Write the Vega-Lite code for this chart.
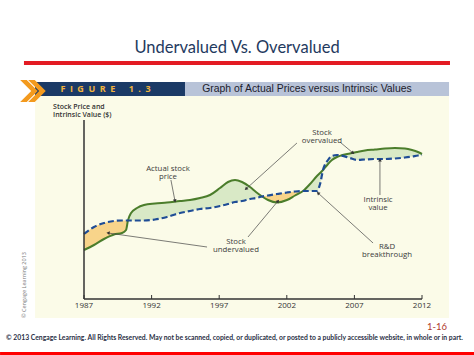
{
  "$schema": "https://vega.github.io/schema/vega-lite/v6.json",
  "width": 338,
  "height": 179,
  "autosize": {"type": "none"},
  "padding": {"left": 84, "top": 120, "right": 52, "bottom": 56},
  "background": "white",
  "config": {"view": {"stroke": null}, "axis": {"grid": false}},
  "datasets": {
    "one": [{}],
    "ticks": [{"year": 1987}, {"year": 1992}, {"year": 1997}, {"year": 2002}, {"year": 2007}, {"year": 2012}],
    "curves": [
      {"year": 1987.00, "actual": 49, "intrinsic": 65},
      {"year": 1987.74, "actual": 54, "intrinsic": 72},
      {"year": 1988.48, "actual": 60, "intrinsic": 76},
      {"year": 1989.22, "actual": 64.5, "intrinsic": 78},
      {"year": 1989.81, "actual": 66, "intrinsic": 78.5},
      {"year": 1990.11, "actual": 69, "intrinsic": 78.5},
      {"year": 1990.25, "actual": 78.5, "intrinsic": 78.5},
      {"year": 1990.48, "actual": 86, "intrinsic": 78.5},
      {"year": 1990.92, "actual": 91, "intrinsic": 78.5},
      {"year": 1991.44, "actual": 94, "intrinsic": 78.5},
      {"year": 1992.25, "actual": 95.5, "intrinsic": 79.5},
      {"year": 1993.14, "actual": 96.5, "intrinsic": 82},
      {"year": 1994.10, "actual": 98, "intrinsic": 86},
      {"year": 1994.84, "actual": 99, "intrinsic": 88},
      {"year": 1995.58, "actual": 101, "intrinsic": 90},
      {"year": 1996.32, "actual": 104, "intrinsic": 91},
      {"year": 1997.06, "actual": 111, "intrinsic": 93},
      {"year": 1997.65, "actual": 117, "intrinsic": 95},
      {"year": 1998.17, "actual": 119, "intrinsic": 97},
      {"year": 1998.69, "actual": 117, "intrinsic": 98},
      {"year": 1999.28, "actual": 112, "intrinsic": 100},
      {"year": 1999.72, "actual": 107, "intrinsic": 101},
      {"year": 2000.17, "actual": 102.5, "intrinsic": 102.5},
      {"year": 2000.61, "actual": 99, "intrinsic": 103.5},
      {"year": 2001.28, "actual": 96.5, "intrinsic": 105},
      {"year": 2002.01, "actual": 99, "intrinsic": 106.5},
      {"year": 2002.61, "actual": 103.5, "intrinsic": 107.5},
      {"year": 2003.20, "actual": 108, "intrinsic": 108},
      {"year": 2003.72, "actual": 115, "intrinsic": 108},
      {"year": 2004.23, "actual": 123, "intrinsic": 108},
      {"year": 2004.46, "actual": 126, "intrinsic": 115},
      {"year": 2004.68, "actual": 129, "intrinsic": 129},
      {"year": 2005.05, "actual": 135, "intrinsic": 139},
      {"year": 2005.34, "actual": 139, "intrinsic": 143},
      {"year": 2005.71, "actual": 142, "intrinsic": 144},
      {"year": 2006.01, "actual": 143.5, "intrinsic": 143.5},
      {"year": 2006.67, "actual": 145.5, "intrinsic": 141},
      {"year": 2007.19, "actual": 147, "intrinsic": 139},
      {"year": 2007.78, "actual": 148.5, "intrinsic": 139.5},
      {"year": 2008.52, "actual": 149.5, "intrinsic": 140},
      {"year": 2009.26, "actual": 150.5, "intrinsic": 140},
      {"year": 2010.00, "actual": 151, "intrinsic": 140.5},
      {"year": 2010.74, "actual": 150.5, "intrinsic": 141.5},
      {"year": 2011.26, "actual": 149, "intrinsic": 142.5},
      {"year": 2011.70, "actual": 147, "intrinsic": 143.5},
      {"year": 2012.00, "actual": 145, "intrinsic": 144}
    ],
    "gaps": [
      {"seg": 1, "zone": "undervalued", "year": 1987.00, "actual": 49, "intrinsic": 65},
      {"seg": 1, "zone": "undervalued", "year": 1987.74, "actual": 54, "intrinsic": 72},
      {"seg": 1, "zone": "undervalued", "year": 1988.48, "actual": 60, "intrinsic": 76},
      {"seg": 1, "zone": "undervalued", "year": 1989.22, "actual": 64.5, "intrinsic": 78},
      {"seg": 1, "zone": "undervalued", "year": 1989.81, "actual": 66, "intrinsic": 78.5},
      {"seg": 1, "zone": "undervalued", "year": 1990.11, "actual": 69, "intrinsic": 78.5},
      {"seg": 1, "zone": "undervalued", "year": 1990.25, "actual": 78.5, "intrinsic": 78.5},
      {"seg": 2, "zone": "overvalued", "year": 1990.25, "actual": 78.5, "intrinsic": 78.5},
      {"seg": 2, "zone": "overvalued", "year": 1990.48, "actual": 86, "intrinsic": 78.5},
      {"seg": 2, "zone": "overvalued", "year": 1990.92, "actual": 91, "intrinsic": 78.5},
      {"seg": 2, "zone": "overvalued", "year": 1991.44, "actual": 94, "intrinsic": 78.5},
      {"seg": 2, "zone": "overvalued", "year": 1992.25, "actual": 95.5, "intrinsic": 79.5},
      {"seg": 2, "zone": "overvalued", "year": 1993.14, "actual": 96.5, "intrinsic": 82},
      {"seg": 2, "zone": "overvalued", "year": 1994.10, "actual": 98, "intrinsic": 86},
      {"seg": 2, "zone": "overvalued", "year": 1994.84, "actual": 99, "intrinsic": 88},
      {"seg": 2, "zone": "overvalued", "year": 1995.58, "actual": 101, "intrinsic": 90},
      {"seg": 2, "zone": "overvalued", "year": 1996.32, "actual": 104, "intrinsic": 91},
      {"seg": 2, "zone": "overvalued", "year": 1997.06, "actual": 111, "intrinsic": 93},
      {"seg": 2, "zone": "overvalued", "year": 1997.65, "actual": 117, "intrinsic": 95},
      {"seg": 2, "zone": "overvalued", "year": 1998.17, "actual": 119, "intrinsic": 97},
      {"seg": 2, "zone": "overvalued", "year": 1998.69, "actual": 117, "intrinsic": 98},
      {"seg": 2, "zone": "overvalued", "year": 1999.28, "actual": 112, "intrinsic": 100},
      {"seg": 2, "zone": "overvalued", "year": 1999.72, "actual": 107, "intrinsic": 101},
      {"seg": 2, "zone": "overvalued", "year": 2000.17, "actual": 102.5, "intrinsic": 102.5},
      {"seg": 3, "zone": "undervalued", "year": 2000.17, "actual": 102.5, "intrinsic": 102.5},
      {"seg": 3, "zone": "undervalued", "year": 2000.61, "actual": 99, "intrinsic": 103.5},
      {"seg": 3, "zone": "undervalued", "year": 2001.28, "actual": 96.5, "intrinsic": 105},
      {"seg": 3, "zone": "undervalued", "year": 2002.01, "actual": 99, "intrinsic": 106.5},
      {"seg": 3, "zone": "undervalued", "year": 2002.61, "actual": 103.5, "intrinsic": 107.5},
      {"seg": 3, "zone": "undervalued", "year": 2003.20, "actual": 108, "intrinsic": 108},
      {"seg": 4, "zone": "overvalued", "year": 2003.20, "actual": 108, "intrinsic": 108},
      {"seg": 4, "zone": "overvalued", "year": 2003.72, "actual": 115, "intrinsic": 108},
      {"seg": 4, "zone": "overvalued", "year": 2004.23, "actual": 123, "intrinsic": 108},
      {"seg": 4, "zone": "overvalued", "year": 2004.46, "actual": 126, "intrinsic": 115},
      {"seg": 4, "zone": "overvalued", "year": 2004.68, "actual": 129, "intrinsic": 129},
      {"seg": 4, "zone": "overvalued", "year": 2005.05, "actual": 135, "intrinsic": 139},
      {"seg": 4, "zone": "overvalued", "year": 2005.34, "actual": 139, "intrinsic": 143},
      {"seg": 4, "zone": "overvalued", "year": 2005.71, "actual": 142, "intrinsic": 144},
      {"seg": 4, "zone": "overvalued", "year": 2006.01, "actual": 143.5, "intrinsic": 143.5},
      {"seg": 4, "zone": "overvalued", "year": 2006.67, "actual": 145.5, "intrinsic": 141},
      {"seg": 4, "zone": "overvalued", "year": 2007.19, "actual": 147, "intrinsic": 139},
      {"seg": 4, "zone": "overvalued", "year": 2007.78, "actual": 148.5, "intrinsic": 139.5},
      {"seg": 4, "zone": "overvalued", "year": 2008.52, "actual": 149.5, "intrinsic": 140},
      {"seg": 4, "zone": "overvalued", "year": 2009.26, "actual": 150.5, "intrinsic": 140},
      {"seg": 4, "zone": "overvalued", "year": 2010.00, "actual": 151, "intrinsic": 140.5},
      {"seg": 4, "zone": "overvalued", "year": 2010.74, "actual": 150.5, "intrinsic": 141.5},
      {"seg": 4, "zone": "overvalued", "year": 2011.26, "actual": 149, "intrinsic": 142.5},
      {"seg": 4, "zone": "overvalued", "year": 2011.70, "actual": 147, "intrinsic": 143.5},
      {"seg": 4, "zone": "overvalued", "year": 2012.00, "actual": 145, "intrinsic": 144}
    ],
    "arrows": [
      {"x1": 1993.43, "y1": 119, "x2": 1993.73, "y2": 98, "dir": 169},
      {"x1": 2002.75, "y1": 156, "x2": 1998.98, "y2": 110, "dir": 228},
      {"x1": 2005.93, "y1": 157, "x2": 2006.90, "y2": 146, "dir": 128},
      {"x1": 1996.10, "y1": 52, "x2": 1988.78, "y2": 66, "dir": 278},
      {"x1": 1999.13, "y1": 62, "x2": 2001.35, "y2": 98, "dir": 40},
      {"x1": 2008.89, "y1": 104, "x2": 2008.89, "y2": 139, "dir": 0},
      {"x1": 2008.38, "y1": 56, "x2": 2004.31, "y2": 106, "dir": 312}
    ],
    "notes": [
      {"year": 1993.21, "value": 134.5, "label": "Actual stock\nprice"},
      {"year": 2004.60, "value": 170.5, "label": "Stock\novervalued"},
      {"year": 1998.24, "value": 61.5, "label": "Stock\nundervalued"},
      {"year": 2008.75, "value": 103.5, "label": "Intrinsic\nvalue"},
      {"year": 2009.41, "value": 56.5, "label": "R&D\nbreakthrough"}
    ]
  },
  "layer": [
    {
      "data": {"name": "one"},
      "mark": {"type": "rect", "color": "#fbfbe8"},
      "encoding": {
        "x": {"datum": 1983.38, "type": "quantitative", "scale": {"domain": [1987, 2012], "nice": false, "zero": false}, "axis": null},
        "x2": {"datum": 2014.0},
        "y": {"datum": 204, "type": "quantitative", "scale": {"domain": [0, 179], "nice": false, "zero": false}, "axis": null},
        "y2": {"datum": -19}
      }
    },
    {
      "data": {"name": "one"},
      "mark": {"type": "rect", "color": "#1b3a66"},
      "encoding": {
        "x": {"datum": 1983.38, "type": "quantitative"},
        "x2": {"datum": 1994.47},
        "y": {"datum": 217, "type": "quantitative"},
        "y2": {"datum": 203}
      }
    },
    {
      "data": {"name": "one"},
      "mark": {"type": "rect", "color": "#b8c3d8"},
      "encoding": {
        "x": {"datum": 1994.47, "type": "quantitative"},
        "x2": {"datum": 2014.0},
        "y": {"datum": 217, "type": "quantitative"},
        "y2": {"datum": 203}
      }
    },
    {
      "data": {"name": "one"},
      "mark": {"type": "point", "filled": true, "color": "#f39a1e", "opacity": 1, "size": 484, "shape": "M-0.8,-1 L-0.2,-1 L0.8,0 L-0.2,1 L-0.8,1 L0.2,0 Z"},
      "encoding": {
        "x": {"datum": 1982.93, "type": "quantitative"},
        "y": {"datum": 208, "type": "quantitative"}
      }
    },
    {
      "data": {"name": "one"},
      "mark": {"type": "point", "filled": true, "color": "#f39a1e", "opacity": 1, "size": 484, "shape": "M-0.8,-1 L-0.2,-1 L0.8,0 L-0.2,1 L-0.8,1 L0.2,0 Z"},
      "encoding": {
        "x": {"datum": 1983.52, "type": "quantitative"},
        "y": {"datum": 208, "type": "quantitative"}
      }
    },
    {
      "data": {"name": "one"},
      "mark": {"type": "text", "text": "F\u2002I\u2002G\u2002U\u2002R\u2002E\u2003\u20021\u2002.\u20023", "font": "Open Sans", "fontWeight": "bold", "fontSize": 9, "color": "#f2b33d", "align": "center", "baseline": "middle"},
      "encoding": {
        "x": {"datum": 1988.59, "type": "quantitative"},
        "y": {"datum": 210, "type": "quantitative"}
      }
    },
    {
      "data": {"name": "one"},
      "mark": {"type": "text", "text": "Graph of Actual Prices versus Intrinsic Values", "font": "Liberation Sans", "fontWeight": 500, "fontSize": 10.4, "color": "#1c1c2c", "align": "center", "baseline": "middle"},
      "encoding": {
        "x": {"datum": 2003.49, "type": "quantitative"},
        "y": {"datum": 210, "type": "quantitative"}
      }
    },
    {
      "data": {"name": "gaps"},
      "mark": {"type": "area", "interpolate": "monotone", "opacity": 1},
      "encoding": {
        "x": {"field": "year", "type": "quantitative"},
        "y": {"field": "actual", "type": "quantitative"},
        "y2": {"field": "intrinsic"},
        "detail": {"field": "seg", "type": "nominal"},
        "color": {"field": "zone", "type": "nominal", "scale": {"domain": ["undervalued", "overvalued"], "range": ["#f8d48a", "#d9e9c6"]}, "legend": null}
      }
    },
    {
      "data": {"name": "curves"},
      "mark": {"type": "line", "interpolate": "monotone", "color": "#4b7d2b", "strokeWidth": 2},
      "encoding": {
        "x": {"field": "year", "type": "quantitative"},
        "y": {"field": "actual", "type": "quantitative"}
      }
    },
    {
      "data": {"name": "curves"},
      "mark": {"type": "line", "interpolate": "monotone", "color": "#1f4d96", "strokeWidth": 2.2, "strokeDash": [6, 3]},
      "encoding": {
        "x": {"field": "year", "type": "quantitative"},
        "y": {"field": "intrinsic", "type": "quantitative"}
      }
    },
    {
      "data": {"name": "one"},
      "mark": {"type": "rule", "color": "#333333", "strokeWidth": 1.5},
      "encoding": {
        "x": {"datum": 1987, "type": "quantitative"},
        "x2": {"datum": 2012},
        "y": {"datum": 0, "type": "quantitative"}
      }
    },
    {
      "data": {"name": "one"},
      "mark": {"type": "rule", "color": "#333333", "strokeWidth": 1.5},
      "encoding": {
        "x": {"datum": 1987, "type": "quantitative"},
        "y": {"datum": 0, "type": "quantitative"},
        "y2": {"datum": 179}
      }
    },
    {
      "data": {"name": "ticks"},
      "mark": {"type": "rule", "color": "#333333", "strokeWidth": 1},
      "encoding": {
        "x": {"field": "year", "type": "quantitative"},
        "y": {"datum": 0, "type": "quantitative"},
        "y2": {"datum": 4}
      }
    },
    {
      "data": {"name": "ticks"},
      "mark": {"type": "text", "font": "Open Sans", "fontSize": 8, "color": "#333333", "align": "center", "baseline": "middle"},
      "encoding": {
        "x": {"field": "year", "type": "quantitative"},
        "y": {"datum": -7, "type": "quantitative"},
        "text": {"field": "year", "type": "quantitative", "format": "d"}
      }
    },
    {
      "data": {"name": "arrows"},
      "mark": {"type": "rule", "color": "#444444", "strokeWidth": 0.7},
      "encoding": {
        "x": {"field": "x1", "type": "quantitative"},
        "y": {"field": "y1", "type": "quantitative"},
        "x2": {"field": "x2"},
        "y2": {"field": "y2"}
      }
    },
    {
      "data": {"name": "arrows"},
      "mark": {"type": "point", "shape": "triangle-up", "filled": true, "color": "#333333", "opacity": 1, "size": 14},
      "encoding": {
        "x": {"field": "x2", "type": "quantitative"},
        "y": {"field": "y2", "type": "quantitative"},
        "angle": {"field": "dir", "type": "quantitative", "scale": null}
      }
    },
    {
      "data": {"name": "notes"},
      "mark": {"type": "text", "font": "Open Sans", "fontSize": 7.8, "color": "#3a3a3a", "align": "center", "baseline": "top", "lineBreak": "\n", "lineHeight": 8.5},
      "encoding": {
        "x": {"field": "year", "type": "quantitative"},
        "y": {"field": "value", "type": "quantitative"},
        "text": {"field": "label", "type": "nominal"}
      }
    },
    {
      "data": {"name": "one"},
      "mark": {"type": "text", "text": ["Stock Price and", "Intrinsic Value ($)"], "font": "Open Sans", "fontWeight": 600, "fontSize": 7, "color": "#333333", "align": "left", "baseline": "top", "lineHeight": 7.5},
      "encoding": {
        "x": {"datum": 1984.71, "type": "quantitative"},
        "y": {"datum": 196, "type": "quantitative"}
      }
    },
    {
      "data": {"name": "one"},
      "mark": {"type": "text", "text": "Undervalued Vs. Overvalued", "font": "Lato", "fontSize": 16.5, "color": "#1f3a60", "align": "center", "baseline": "alphabetic"},
      "encoding": {
        "x": {"datum": 1998.32, "type": "quantitative"},
        "y": {"datum": 246.5, "type": "quantitative"}
      }
    },
    {
      "data": {"name": "one"},
      "mark": {"type": "rect", "color": "#e31b23"},
      "encoding": {
        "x": {"datum": 1982.56, "type": "quantitative"},
        "x2": {"datum": 2014.07},
        "y": {"datum": 238, "type": "quantitative"},
        "y2": {"datum": 234}
      }
    },
    {
      "data": {"name": "one"},
      "mark": {"type": "text", "text": "© Cengage Learning 2013", "font": "Open Sans", "fontSize": 5.5, "color": "#777777", "align": "center", "baseline": "middle", "angle": 270},
      "encoding": {
        "x": {"datum": 1982.56, "type": "quantitative"},
        "y": {"datum": 14, "type": "quantitative"}
      }
    },
    {
      "data": {"name": "one"},
      "mark": {"type": "text", "text": "1-16", "font": "Lato", "fontSize": 9.5, "color": "#b03a2e", "align": "right", "baseline": "middle"},
      "encoding": {
        "x": {"datum": 2013.85, "type": "quantitative"},
        "y": {"datum": -28, "type": "quantitative"}
      }
    },
    {
      "data": {"name": "one"},
      "mark": {"type": "text", "text": "© 2013 Cengage Learning. All Rights Reserved. May not be scanned, copied, or duplicated, or posted to a publicly accessible website, in whole or in part.", "font": "Lato", "fontWeight": "bold", "fontSize": 6.8, "color": "#2a2f45", "align": "center", "baseline": "middle"},
      "encoding": {
        "x": {"datum": 1998.13, "type": "quantitative"},
        "y": {"datum": -39, "type": "quantitative"}
      }
    },
    {
      "data": {"name": "one"},
      "mark": {"type": "rect", "color": "#ff0000"},
      "encoding": {
        "x": {"datum": 1980.79, "type": "quantitative"},
        "x2": {"datum": 2015.85},
        "y": {"datum": -53, "type": "quantitative"},
        "y2": {"datum": -60}
      }
    }
  ]
}
